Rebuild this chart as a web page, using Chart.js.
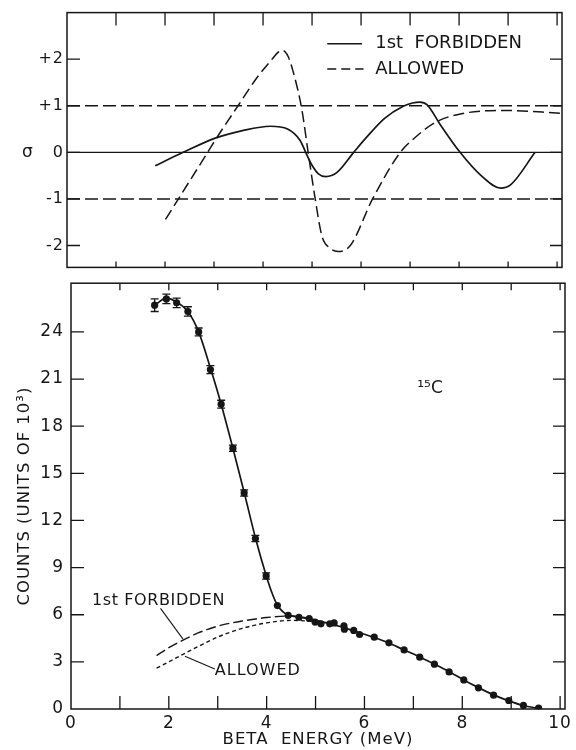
<!DOCTYPE html>
<html><head><meta charset="utf-8">
<script src="https://cdn.jsdelivr.net/npm/chart.js@4.4.1/dist/chart.umd.min.js"></script>
<style>
html,body{margin:0;padding:0;background:#fff;}
#wrap{position:relative;width:576px;height:750px;overflow:hidden;background:#fff;}
canvas{position:absolute;left:0;}
#top{top:0;}
#bot{top:266px;}
</style></head><body>
<div id="wrap"><canvas id="top" width="576" height="280"></canvas><canvas id="bot" width="576" height="484"></canvas></div>
<script>
// ---------- data: upper panel (sigma deviation) ----------
const sigmaForbE = [1.80, 2.37, 3.04, 3.56, 4.15, 4.50, 4.76, 4.87, 4.99, 5.13, 5.28, 5.51, 5.85, 6.11, 6.48, 6.86, 7.05, 7.20, 7.35, 7.60, 8.02, 8.45, 8.85, 9.05, 9.55];
const sigmaForb  = [-0.29, 0, 0.31, 0.46, 0.56, 0.50, 0.25, 0, -0.26, -0.46, -0.52, -0.43, 0, 0.32, 0.73, 0.99, 1.06, 1.08, 1.02, 0.62, 0, -0.5, -0.77, -0.70, 0];
const sigmaAllowE = [2.01, 2.29, 2.87, 3.04, 3.49, 3.86, 4.20, 4.30, 4.37, 4.45, 4.52, 4.61, 4.79, 4.92, 5.06, 5.20, 5.37, 5.53, 5.78, 6.24, 6.80, 7.05, 7.53, 8.05, 8.95, 10.07];
const sigmaAllow  = [-1.44, -0.97, 0, 0.29, 1.0, 1.58, 2.02, 2.14, 2.19, 2.16, 2.04, 1.75, 0.93, 0, -0.97, -1.79, -2.06, -2.13, -2.0, -0.99, 0, 0.27, 0.65, 0.83, 0.90, 0.84];
const refLineE = [0, 10.1];
const sigmaTicks = [2, 1, 0, -1, -2];
const sigmaTickLabels = ['+2', '+1', '0', '-1', '-2'];

// ---------- data: lower panel (counts, units of 10^3) ----------
const countE = [1.71, 1.95, 2.16, 2.39, 2.61, 2.85, 3.07, 3.31, 3.54, 3.77, 3.99, 4.22, 4.44, 4.66, 4.87, 4.99, 5.11, 5.29, 5.38, 5.58, 5.59, 5.78, 5.90, 6.20, 6.50, 6.81, 7.13, 7.43, 7.73, 8.03, 8.33, 8.64, 8.95, 9.25, 9.56];
const counts = [25.7, 26.1, 25.85, 25.3, 24.0, 21.6, 19.4, 16.6, 13.75, 10.85, 8.47, 6.58, 5.96, 5.84, 5.76, 5.53, 5.42, 5.42, 5.48, 5.30, 5.08, 5.0, 4.74, 4.57, 4.21, 3.76, 3.30, 2.85, 2.36, 1.85, 1.35, 0.88, 0.54, 0.23, 0.05];
const countErr = [0.4, 0.3, 0.3, 0.3, 0.25, 0.25, 0.25, 0.2, 0.2, 0.2, 0.2, 0.1, 0.1, 0.1, 0.1, 0.1, 0.1, 0.1, 0.1, 0.1, 0.1, 0.1, 0.1, 0.1, 0.1, 0.1, 0.1, 0.1, 0.1, 0.1, 0.1, 0.1, 0.1, 0.1, 0.1];
const fitE = [1.71, 1.95, 2.16, 2.39, 2.61, 2.85, 3.07, 3.31, 3.54, 3.77, 3.99, 4.12, 4.22, 4.33, 4.44, 4.66, 4.90, 5.20, 5.50, 5.80, 6.20, 6.50, 6.80, 7.14, 7.44, 7.74, 8.03, 8.33, 8.64, 8.95, 9.25, 9.56];
const fitCounts = [25.7, 26.15, 25.9, 25.3, 24.0, 21.7, 19.4, 16.6, 13.8, 10.9, 8.5, 7.3, 6.6, 6.2, 5.98, 5.85, 5.72, 5.5, 5.25, 4.95, 4.55, 4.2, 3.77, 3.3, 2.84, 2.36, 1.85, 1.36, 0.9, 0.52, 0.22, 0.04];
const thForbE = [1.75, 2.0, 2.3, 2.6, 3.0, 3.5, 4.0, 4.5, 4.85];
const thForb  = [3.4, 3.9, 4.4, 4.84, 5.27, 5.6, 5.82, 5.92, 5.8];
const thAllowE = [1.75, 2.0, 2.3, 2.6, 3.0, 3.5, 4.0, 4.5, 5.0];
const thAllow  = [2.6, 3.0, 3.5, 3.98, 4.58, 5.13, 5.48, 5.64, 5.57];
const forbLeaderE = [1.83, 2.29], forbLeaderC = [6.4, 4.45];
const allowLeaderE = [2.33, 2.94], allowLeaderC = [3.35, 2.55];
const energyMinorTicks = [1, 2, 3, 4, 5, 6, 7, 8, 9, 10];
const energyTickLabels = [0, 2, 4, 6, 8, 10];
const countTicks = [0, 3, 6, 9, 12, 15, 18, 21, 24];

// ---------- helpers ----------
const INK = '#161616';
Chart.defaults.font.family = "'DejaVu Sans', sans-serif";
Chart.defaults.color = INK;
function xy(xs, ys) { return xs.map((x, i) => ({x: x, y: ys[i]})); }
const spacing = {id: 'spacing', beforeDraw(c) { c.ctx.letterSpacing = '1px'; }};

function frameTicks(o) {
  return {
    id: 'frameTicks',
    afterDraw(chart) {
      const {ctx, chartArea: a, scales: {x, y}} = chart;
      ctx.save();
      ctx.strokeStyle = INK;
      ctx.lineWidth = 1.5;
      ctx.strokeRect(a.left, a.top, a.right - a.left, a.bottom - a.top);
      ctx.lineWidth = 1.3;
      ctx.beginPath();
      for (const v of o.xTicks) {
        const px = x.getPixelForValue(v);
        ctx.moveTo(px, a.top); ctx.lineTo(px, a.top + o.topLen);
        ctx.moveTo(px, a.bottom); ctx.lineTo(px, a.bottom - o.botLen);
      }
      for (const v of o.yTicks) {
        const py = y.getPixelForValue(v);
        ctx.moveTo(a.left, py); ctx.lineTo(a.left + 13, py);
        ctx.moveTo(a.right, py); ctx.lineTo(a.right - 12, py);
      }
      ctx.stroke();
      ctx.restore();
    }
  };
}

function textLabels(items) {
  return {
    id: 'textLabels',
    afterDraw(chart) {
      const {ctx, scales: {x, y}, chartArea: a} = chart;
      ctx.save();
      ctx.fillStyle = INK;
      ctx.textBaseline = 'middle';
      for (const it of items) {
        ctx.letterSpacing = (it.ls || 0) + 'px';
        ctx.font = it.size + "px 'DejaVu Sans', sans-serif";
        ctx.textAlign = it.align || 'left';
        const px = it.px !== undefined ? a.left + it.px : x.getPixelForValue(it.x);
        ctx.fillText(it.text, px, y.getPixelForValue(it.y));
      }
      ctx.restore();
    }
  };
}

const legendSample = {
  id: 'legendSample',
  afterDraw(chart) {
    const {ctx, scales: {x, y}} = chart;
    ctx.save();
    ctx.strokeStyle = INK; ctx.lineWidth = 1.6;
    ctx.beginPath();
    ctx.moveTo(x.getPixelForValue(5.31), y.getPixelForValue(2.33));
    ctx.lineTo(x.getPixelForValue(6.02), y.getPixelForValue(2.33));
    ctx.stroke();
    ctx.setLineDash([9, 5]);
    ctx.beginPath();
    ctx.moveTo(x.getPixelForValue(5.31), y.getPixelForValue(1.79));
    ctx.lineTo(x.getPixelForValue(6.05), y.getPixelForValue(1.79));
    ctx.stroke();
    ctx.restore();
  }
};

const errorBars = {
  id: 'errorBars',
  afterDatasetsDraw(chart) {
    const {ctx, scales: {x, y}} = chart;
    ctx.save();
    ctx.strokeStyle = INK; ctx.lineWidth = 1.3;
    ctx.beginPath();
    countE.forEach((e, i) => {
      const px = x.getPixelForValue(e);
      const y1 = y.getPixelForValue(counts[i] + countErr[i]);
      const y2 = y.getPixelForValue(counts[i] - countErr[i]);
      ctx.moveTo(px, y1); ctx.lineTo(px, y2);
      if (countErr[i] > 0.15) {
        ctx.moveTo(px - 4, y1); ctx.lineTo(px + 4, y1);
        ctx.moveTo(px - 4, y2); ctx.lineTo(px + 4, y2);
      }
    });
    ctx.stroke();
    ctx.restore();
  }
};

const lineDs = (data, extra) => Object.assign({data: data, borderColor: INK, borderWidth: 1.5, pointRadius: 0, fill: false, cubicInterpolationMode: 'monotone'}, extra || {});

// ---------- upper chart ----------
new Chart(document.getElementById('top'), {
  type: 'line',
  data: {datasets: [
    lineDs(xy(sigmaForbE, sigmaForb), {borderWidth: 1.7}),
    lineDs(xy(sigmaAllowE, sigmaAllow), {borderDash: [11, 5]}),
    lineDs(xy(refLineE, [0, 0]), {borderWidth: 1.4}),
    lineDs(xy(refLineE, [1, 1]), {borderWidth: 1.4, borderDash: [13, 5]}),
    lineDs(xy(refLineE, [-1, -1]), {borderWidth: 1.4, borderDash: [13, 5]})
  ]},
  options: {
    responsive: false, animation: false, devicePixelRatio: 1,
    layout: {padding: {left: 0, right: 14, top: 6, bottom: 7}},
    plugins: {legend: {display: false}, tooltip: {enabled: false}},
    scales: {
      x: {type: 'linear', min: 0, max: 10.1, ticks: {display: false}, grid: {display: false}, border: {display: false},
          afterFit(s) { s.height = 0; }},
      y: {type: 'linear', min: -2.47, max: 3.0,
          afterBuildTicks(s) { s.ticks = sigmaTicks.map(v => ({value: v})); },
          ticks: {font: {size: 16}, padding: 3, callback: (v) => sigmaTickLabels[sigmaTicks.indexOf(v)]},
          grid: {display: false, drawTicks: false}, border: {display: false},
          afterFit(s) { s.width = 67; }}
    }
  },
  plugins: [spacing, frameTicks({xTicks: energyMinorTicks, yTicks: sigmaTicks, topLen: 13, botLen: 6}), legendSample,
    textLabels([
      {text: '1st  FORBIDDEN', x: 6.29, y: 2.33, size: 18},
      {text: 'ALLOWED', x: 6.29, y: 1.79, size: 18},
      {text: 'σ', px: -45, y: 0, size: 17}
    ])]
});

// ---------- lower chart ----------
new Chart(document.getElementById('bot'), {
  type: 'line',
  data: {datasets: [
    lineDs(xy(fitE, fitCounts), {borderWidth: 1.7}),
    {data: xy(countE, counts), showLine: false, pointRadius: 3.6, pointBackgroundColor: INK, pointBorderColor: INK, pointBorderWidth: 0},
    lineDs(xy(thForbE, thForb), {borderWidth: 1.4, borderDash: [10, 4]}),
    lineDs(xy(thAllowE, thAllow), {borderWidth: 1.4, borderDash: [4, 3]}),
    lineDs(xy(forbLeaderE, forbLeaderC), {borderWidth: 1.1, cubicInterpolationMode: 'default'}),
    lineDs(xy(allowLeaderE, allowLeaderC), {borderWidth: 1.1, cubicInterpolationMode: 'default'})
  ]},
  options: {
    responsive: false, animation: false, devicePixelRatio: 1,
    layout: {padding: {left: 0, right: 11, top: 7, bottom: 0}},
    plugins: {legend: {display: false}, tooltip: {enabled: false}},
    scales: {
      x: {type: 'linear', min: 0, max: 10.1,
          afterBuildTicks(s) { s.ticks = energyTickLabels.map(v => ({value: v})); },
          ticks: {font: {size: 17}, padding: 4, maxRotation: 0, autoSkip: false},
          grid: {display: false, drawTicks: false}, border: {display: false},
          title: {display: true, text: 'BETA  ENERGY (MeV)', font: {size: 16.5}, padding: {top: 0, bottom: 0}},
          afterFit(s) { s.height = 41; }},
      y: {type: 'linear', min: 0, max: 27.1,
          afterBuildTicks(s) { s.ticks = countTicks.map(v => ({value: v})); },
          ticks: {font: {size: 17}, padding: 7},
          grid: {display: false, drawTicks: false}, border: {display: false},
          title: {display: true, text: 'COUNTS (UNITS OF 10³)', font: {size: 16.5}, padding: {top: 15, bottom: 0}},
          afterFit(s) { s.width = 71; }}
    }
  },
  plugins: [spacing, errorBars, frameTicks({xTicks: energyMinorTicks, yTicks: countTicks.slice(1), topLen: 7, botLen: 13}),
    textLabels([
      {text: '1st FORBIDDEN', x: 0.43, y: 6.9, size: 16, ls: 0.6},
      {text: 'ALLOWED', x: 2.94, y: 2.42, size: 16, ls: 1},
      {text: '¹⁵C', x: 7.08, y: 20.4, size: 17}
    ])]
});
</script>
</body></html>
